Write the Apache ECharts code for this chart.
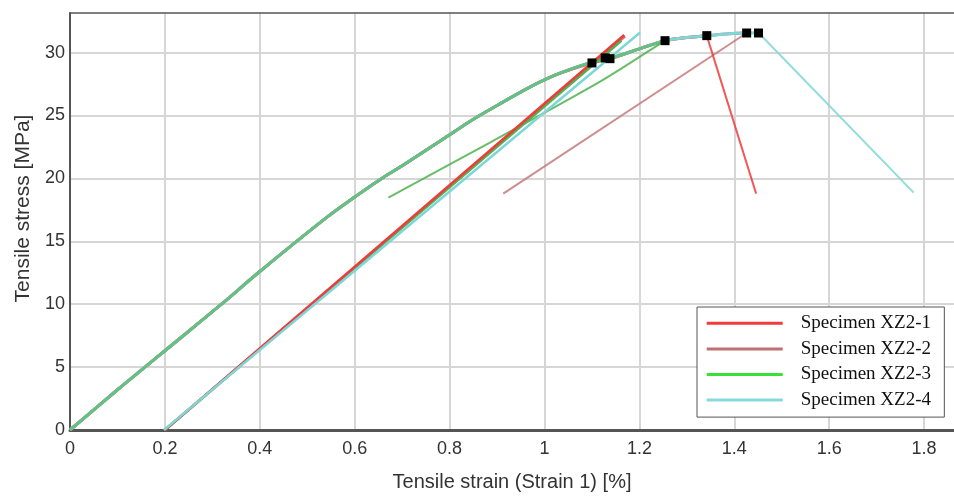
<!DOCTYPE html>
<html>
<head>
<meta charset="utf-8">
<script src="https://cdn.jsdelivr.net/npm/echarts@6/dist/echarts.min.js"></script>
<style>
  html, body { margin: 0; padding: 0; background: #fff; }
  #main { width: 954px; height: 497px; }
</style>
</head>
<body>
<div id="main"></div>
<script>
// specimen names and colours
const names = ['Specimen XZ2-1', 'Specimen XZ2-2', 'Specimen XZ2-3', 'Specimen XZ2-4'];
const colors = ['#ee3b3b', '#c47a7a', '#4fb24f', '#7fd6d6'];
const legendColors = ['#f03c3c', '#c07070', '#38e038', '#88dada'];

// loading curve, shared strain points [%]
const strain = [0, 0.1, 0.158, 0.2, 0.316, 0.4, 0.541, 0.603, 0.657, 0.7, 0.801, 0.85, 0.9, 1.003, 1.1, 1.138, 1.2, 1.254, 1.3, 1.342, 1.39, 1.426, 1.451];
// stress [MPa] per specimen, each ends at its break point
const stress1 = [0, 3.2, 5.0, 6.3, 9.9, 12.6, 16.9, 18.6, 20.0, 21.0, 23.5, 24.7, 25.8, 27.9, 29.2, 29.5, 30.3, 30.95, 31.2, 31.35];
const stress2 = [0, 3.2, 5.0, 6.3, 9.9, 12.6, 16.9, 18.6, 20.0, 21.0, 23.5, 24.7, 25.8, 27.9, 29.25, 29.55, 30.3, 30.95, 31.2, 31.35, 31.5, 31.56];
const stress3 = [0, 3.2, 5.0, 6.3, 9.9, 12.6, 16.9, 18.6, 20.0, 21.0, 23.5, 24.7, 25.8, 27.9, 29.25, 29.55, 30.3, 30.95];
const stress4 = [0, 3.2, 5.0, 6.3, 9.9, 12.6, 16.9, 18.6, 20.0, 21.0, 23.5, 24.7, 25.8, 27.9, 29.25, 29.55, 30.3, 30.95, 31.2, 31.35, 31.5, 31.56, 31.58];

// 0.2 % offset lines [strain, stress]
const offset1 = [[0.2, 0], [1.168, 31.4]];
const offset2 = [[0.2, 0], [1.17, 31.3]];
const offset3 = [[0.2, 0], [1.162, 30.95]];
const offset4 = [[0.198, 0], [1.2015, 31.6]];

// curves recorded after break
const after1 = [[1.342, 31.35], [1.446, 18.79]];
const after2 = [[0.913, 18.79], [1.426, 31.56]];
const after3 = [[0.671, 18.47], [0.885, 22.85], [1.117, 27.7], [1.235, 30.5], [1.254, 30.95]];
const after4 = [[1.451, 31.58], [1.778, 18.87]];

// yield and break markers
const markers = [[1.1, 29.18], [1.128, 29.58], [1.138, 29.52], [1.254, 30.95], [1.342, 31.35], [1.426, 31.56], [1.451, 31.56]];

const stresses = [stress1, stress2, stress3, stress4];
const offsets = [offset1, offset2, offset3, offset4];
const afters = [after1, after2, after3, after4];

const series = [];
// loading curves first, green on top
[0, 1, 3, 2].forEach(i => {
  series.push({
    name: names[i], type: 'line', showSymbol: false, z: 2,
    smooth: 0.4,
    data: stresses[i].map((s, k) => [strain[k], s]),
    lineStyle: { color: colors[i], width: 3, opacity: i === 2 ? 0.6 : 1 },
    itemStyle: { color: colors[i] }
  });
});
[1, 2, 0, 3].forEach(i => {
  series.push({
    name: names[i], type: 'line', showSymbol: false, z: 3,
    data: offsets[i],
    lineStyle: { color: colors[i], width: 2.5 },
    itemStyle: { color: colors[i] }
  });
  series.push({
    name: names[i], type: 'line', showSymbol: false, z: 3,
    smooth: 0.3,
    data: afters[i],
    lineStyle: { color: colors[i], width: 2, opacity: 0.85 },
    itemStyle: { color: colors[i] }
  });
});
series.push({
  type: 'scatter', symbol: 'rect', symbolSize: 9, z: 5,
  itemStyle: { color: '#000', opacity: 1 }, data: markers
});

const axisFont = 'Liberation Sans';
let myChart = echarts.init(document.getElementById('main'));
myChart.setOption({
  animation: false,
  grid: { left: 70, top: 13, right: 0, bottom: 66 },
  legend: {
    orient: 'vertical', left: 697, top: 307,
    padding: [6.3, 13.3, 7, 9.7],
    backgroundColor: '#fff', borderColor: '#555', borderWidth: 1,
    icon: 'rect', itemWidth: 76, itemHeight: 3, itemGap: 5.6,
    textStyle: { fontFamily: 'Liberation Serif', fontSize: 19, color: '#111', lineHeight: 20, padding: [0, 0, 0, 13] },
    data: names.map((n, i) => ({ name: n, itemStyle: { color: legendColors[i] } }))
  },
  xAxis: [{
    type: 'value', min: 0, max: 1.863, interval: 0.2,
    name: 'Tensile strain (Strain 1) [%]', nameLocation: 'middle', nameGap: 42,
    nameTextStyle: { fontFamily: axisFont, fontSize: 20, color: '#333' },
    axisLine: { lineStyle: { color: '#555', width: 3 } },
    axisTick: { show: false },
    axisLabel: { fontFamily: axisFont, fontSize: 18, color: '#333', margin: 10, showMaxLabel: false },
    splitLine: { showMaxLine: false, lineStyle: { color: '#d6d6d6', width: 2 } }
  }, {
    type: 'value', position: 'top', min: 0, max: 1.863,
    axisLine: { show: true, lineStyle: { color: '#555', width: 1.5 } },
    axisTick: { show: false }, axisLabel: { show: false }, splitLine: { show: false }
  }],
  yAxis: {
    type: 'value', min: 0, max: 33.15, interval: 5,
    name: 'Tensile stress [MPa]', nameLocation: 'middle', nameGap: 34, nameRotate: 90,
    nameTextStyle: { fontFamily: axisFont, fontSize: 21, color: '#333', padding: [0, 0, 0, 26] },
    axisLine: { show: true, lineStyle: { color: '#555', width: 2 } },
    axisTick: { show: false },
    axisLabel: { fontFamily: axisFont, fontSize: 18, color: '#333', margin: 5, showMaxLabel: false },
    splitLine: { showMaxLine: false, lineStyle: { color: '#d6d6d6', width: 2 } }
  },
  series: series
});
</script>
</body>
</html>
